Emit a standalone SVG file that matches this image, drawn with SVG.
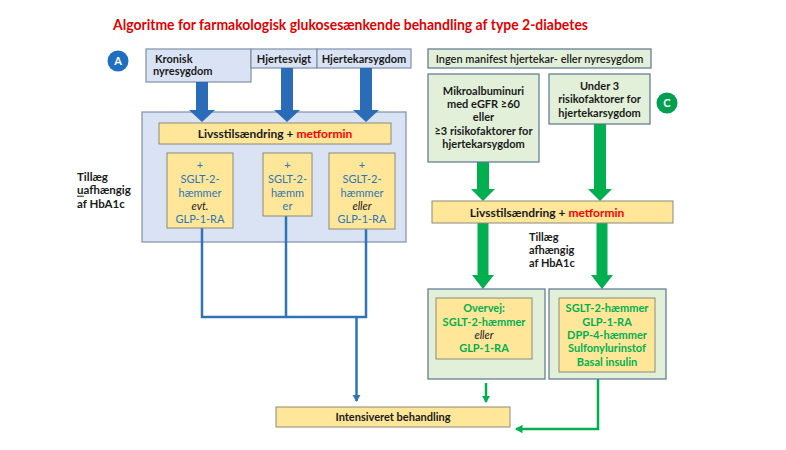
<svg xmlns="http://www.w3.org/2000/svg" width="786" height="450" viewBox="0 0 786 450">
<defs>
<style>
text{font-family:Lato,"Liberation Sans",sans-serif;}
.b{font-weight:bold;}
.blue{fill:#dae3f3;stroke:#7f90a8;stroke-width:1.2;}
.grn{fill:#e2f0d9;stroke:#5b7590;stroke-width:1.2;}
.yel{fill:#ffe699;stroke:#8a8a7a;stroke-width:1;}
.t11{font-size:11px;fill:#1a1a1a;}
.bt{font-size:11px;fill:#2e75b6;}
.gt{font-size:11px;fill:#00b050;font-weight:bold;}
.it{font-style:italic;fill:#1a1a1a;}
.red{fill:#ff0000;}
.ln{fill:none;stroke-width:2.5;}
.bl{stroke:#2e75b6;}
.gl{stroke:#00b050;}
.ba{fill:#2a6cb8;}
.ga{fill:#00b050;}
.circ{font-size:11px;font-weight:bold;fill:#fff;}
</style>
<marker id="ab" markerWidth="4" markerHeight="4" refX="2.6" refY="2" orient="auto" markerUnits="strokeWidth"><path d="M0,0.3 L3,2 L0,3.7 z" fill="#2e75b6"/></marker>
<marker id="ag" markerWidth="4" markerHeight="4" refX="2.6" refY="2" orient="auto" markerUnits="strokeWidth"><path d="M0,0.3 L3,2 L0,3.7 z" fill="#00b050"/></marker>
</defs>
<rect width="786" height="450" fill="#fff"/>
<text x="113" y="30" class="b" font-size="15" fill="#e00000" textLength="475" lengthAdjust="spacingAndGlyphs">Algoritme for farmakologisk glukosesænkende behandling af type 2-diabetes</text>

<g id="circleA"><circle cx="118" cy="61" r="10.5" fill="#1f6fc0"/><text x="118" y="65" text-anchor="middle" class="circ">A</text></g>
<g id="circleB"><circle cx="154" cy="165" r="8.5" fill="#7030a0"/><text x="154" y="169" text-anchor="middle" class="circ" font-size="10">B</text></g>
<g id="circleC"><circle cx="667" cy="103" r="10.5" fill="#00a050"/><text x="667" y="107" text-anchor="middle" class="circ">C</text></g>

<g id="bigBlue"><rect x="142" y="112" width="264" height="130" class="blue"/></g>

<g id="kronisk"><rect x="146" y="49" width="105" height="33" class="blue"/><text class="t11 b" x="155" y="63">Kronisk</text><text class="t11 b" x="153" y="75">nyresygdom</text></g>
<g id="hjertesvigt"><rect x="251" y="49" width="66" height="19" class="blue"/><text class="t11 b" x="284" y="63" text-anchor="middle">Hjertesvigt</text></g>
<g id="hjertekar"><rect x="317" y="49" width="94" height="19" class="blue"/><text class="t11 b" x="364" y="63" text-anchor="middle">Hjertekarsygdom</text></g>

<g id="connectors">
<polygon class="ba" points="196,82 208,82 208,110 215,110 202,122 189,110 196,110"/>
<polygon class="ba" points="281,68 293,68 293,110 300,110 287,122 274,110 281,110"/>
<polygon class="ba" points="360,68 372,68 372,110 379,110 366,122 353,110 360,110"/>
<polygon class="ga" points="477,162 489,162 489,189 495,189 483,201 471,189 477,189"/>
<polygon class="ga" points="594,124 606,124 606,189 612,189 600,201 588,189 594,189"/>
<polygon class="ga" points="477.5,223 488.5,223 488.5,275 494,275 483,289 472,275 477.5,275"/>
<polygon class="ga" points="596.5,223 607.5,223 607.5,275 613,275 602,289 591,275 596.5,275"/>
<polyline class="ln bl" points="202,228 202,317 366,317 366,229"/>
<line class="ln bl" x1="286" y1="216" x2="286" y2="317"/>
<line class="ln bl" x1="356.5" y1="317" x2="356.5" y2="401" marker-end="url(#ab)"/>
<line class="ln gl" x1="486" y1="383" x2="486" y2="402" marker-end="url(#ag)"/>
<polyline class="ln gl" points="598,379 598,429 516,429" marker-end="url(#ag)"/>
</g>

<g id="livsBlue"><rect x="159" y="123" width="232" height="21" class="yel"/><text class="b" font-size="12" x="275" y="138" text-anchor="middle" fill="#1a1a1a">Livsstilsændring  + <tspan class="red">metformin</tspan></text></g>

<g id="box1"><rect x="167" y="153" width="66" height="75" class="yel"/>
<text class="bt" text-anchor="middle"><tspan x="200" y="169">+</tspan><tspan x="200" y="183">SGLT-2-</tspan><tspan x="200" y="197">hæmmer</tspan><tspan x="200" y="210" class="it">evt.</tspan><tspan x="200" y="223">GLP-1-RA</tspan></text></g>
<g id="box2"><rect x="263" y="153" width="49" height="63" class="yel"/>
<text class="bt" text-anchor="middle"><tspan x="287.5" y="169">+</tspan><tspan x="287.5" y="183">SGLT-2-</tspan><tspan x="287.5" y="197">hæmm</tspan><tspan x="287.5" y="210">er</tspan></text></g>
<g id="box3"><rect x="329" y="153" width="66" height="76" class="yel"/>
<text class="bt" text-anchor="middle"><tspan x="362" y="169">+</tspan><tspan x="362" y="183">SGLT-2-</tspan><tspan x="362" y="197">hæmmer</tspan><tspan x="362" y="210" class="it">eller</tspan><tspan x="362" y="223">GLP-1-RA</tspan></text></g>

<g id="tillaegLeft"><text class="b" font-size="11.5" fill="#1a1a1a"><tspan x="77" y="180.5">Tillæg</tspan><tspan x="77" y="194">uafhængig</tspan><tspan x="77" y="207.5">af HbA1c</tspan></text><line x1="77" y1="196.2" x2="83.8" y2="196.2" stroke="#1a1a1a" stroke-width="1"/></g>

<g id="ingen"><rect x="428" y="49" width="223" height="19" class="grn"/><text class="t11" x="539.5" y="63" text-anchor="middle" font-weight="600">Ingen manifest hjertekar- eller nyresygdom</text></g>
<g id="mikro"><rect x="428" y="74" width="111" height="88" class="grn"/>
<text class="t11 b" text-anchor="middle"><tspan x="483.5" y="95">Mikroalbuminuri</tspan><tspan x="483.5" y="108">med eGFR ≥60</tspan><tspan x="483.5" y="121">eller</tspan><tspan x="483.5" y="135">≥3 risikofaktorer for</tspan><tspan x="483.5" y="148">hjertekarsygdom</tspan></text></g>
<g id="under3"><rect x="549" y="74" width="101" height="50" class="grn"/>
<text class="t11 b" text-anchor="middle"><tspan x="599.5" y="90">Under 3</tspan><tspan x="599.5" y="103">risikofaktorer for</tspan><tspan x="599.5" y="117">hjertekarsygdom</tspan></text></g>

<g id="livsGreen"><rect x="432" y="201" width="241" height="22" class="yel"/><text class="b" font-size="12" x="547" y="217" text-anchor="middle" fill="#1a1a1a">Livsstilsændring  + <tspan class="red">metformin</tspan></text></g>

<g id="tillaegRight"><text class="b" font-size="11" fill="#1a1a1a"><tspan x="529" y="241">Tillæg</tspan><tspan x="529" y="254">afhængig</tspan><tspan x="529" y="267">af HbA1c</tspan></text></g>

<g id="overvej"><rect x="428" y="289" width="117" height="90" class="grn"/><rect x="436" y="298" width="96" height="61" class="yel"/>
<text class="gt" text-anchor="middle"><tspan x="484" y="312">Overvej:</tspan><tspan x="484" y="326">SGLT-2-hæmmer</tspan><tspan x="484" y="339" class="it" font-weight="normal">eller</tspan><tspan x="484" y="352">GLP-1-RA</tspan></text></g>
<g id="options"><rect x="549" y="289" width="117" height="90" class="grn"/><rect x="559" y="298" width="96" height="74" class="yel"/>
<text class="gt" text-anchor="middle"><tspan x="607" y="312">SGLT-2-hæmmer</tspan><tspan x="607" y="326">GLP-1-RA</tspan><tspan x="607" y="339">DPP-4-hæmmer</tspan><tspan x="607" y="352">Sulfonylurinstof</tspan><tspan x="607" y="366">Basal insulin</tspan></text></g>

<g id="intensiv"><rect x="276" y="407" width="234" height="20" class="yel"/><text class="t11 b" x="393" y="421" text-anchor="middle">Intensiveret behandling</text></g>
</svg>
